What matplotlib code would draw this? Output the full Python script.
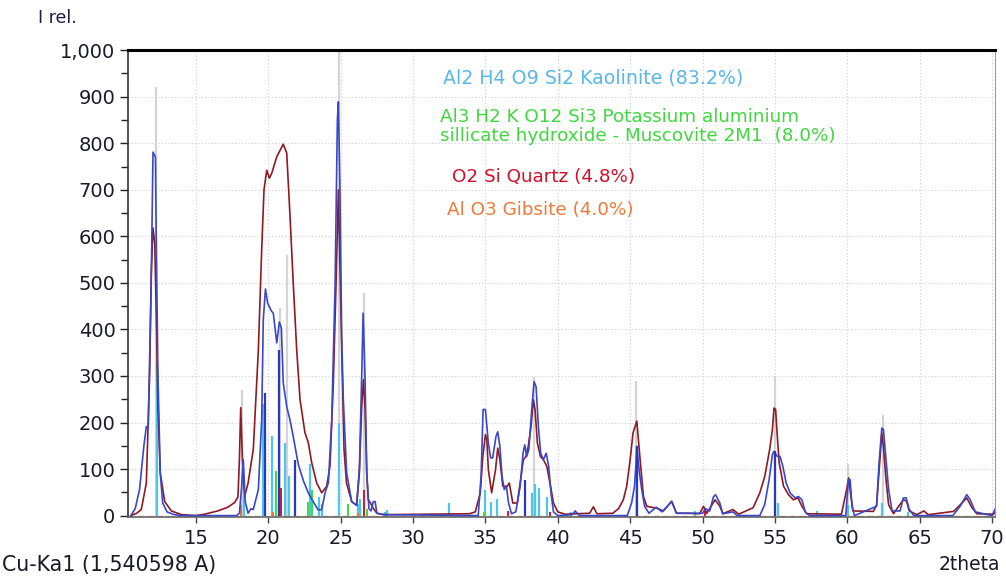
import matplotlib
matplotlib.use("Agg")
import matplotlib.pyplot as plt
from matplotlib.ticker import MultipleLocator, FuncFormatter

# measured pattern (dark red)
red_x = [10.5, 10.9, 11.22, 11.57, 11.80, 11.91, 12.03, 12.15, 12.26, 12.37, 12.53, 12.84, 13.3, 14.0, 15.0,
         15.6, 16.5, 17.2, 17.67, 17.9, 18.0, 18.09, 18.2, 18.35, 18.6, 18.96, 19.31, 19.54, 19.70, 19.89,
         20.07, 20.24, 20.58, 21.03, 21.27, 21.5, 21.72, 21.96, 22.19, 22.53, 22.76, 23.0, 23.34, 23.69,
         24.03, 24.26, 24.49, 24.68, 24.84, 25.07, 25.23, 25.4, 25.76, 26.1, 26.29, 26.45, 26.57, 26.68,
         26.8, 26.9, 27.27, 27.5, 28.0, 33.9, 34.3, 34.64, 34.82, 35.0, 35.1, 35.2, 35.43, 35.7, 35.85,
         36.0, 36.2, 36.5, 36.65, 36.89, 37.2, 37.4, 37.62, 37.8, 37.96, 38.15, 38.31, 38.43, 38.59, 38.8,
         39.0, 39.24, 39.5, 39.7, 40.0, 40.5, 42.2, 42.46, 42.7, 43.8, 44.2, 44.53, 44.76, 45.0, 45.2,
         45.46, 45.69, 45.92, 46.15, 46.84, 47.3, 47.87, 48.2, 49.0, 49.8, 50.07, 50.3, 50.87, 51.2, 51.4,
         52.1, 52.5, 53.5, 53.96, 54.3, 54.64, 54.83, 54.94, 55.05, 55.17, 55.3, 55.6, 55.94, 56.28, 56.6,
         56.87, 57.2, 59.6, 59.96, 60.1, 60.24, 60.4, 61.8, 62.03, 62.22, 62.39, 62.5, 62.68, 62.86, 63.2,
         63.55, 63.88, 64.1, 64.28, 64.8, 65.3, 65.6, 67.34, 67.8, 68.26, 68.6, 68.95, 70.1, 70.22]
red_y = [0, 5, 13, 70, 306, 521, 618, 586, 427, 234, 92, 30, 10, 2, 0,
         3, 10, 18, 28, 40, 120, 232, 130, 40, 70, 142, 356, 571, 700, 742,
         725, 736, 771, 798, 779, 642, 500, 356, 249, 178, 157, 113, 70, 49,
         63, 106, 285, 500, 700, 356, 142, 70, 30, 22, 92, 234, 292, 234,
         92, 35, 15, 5, 2, 4, 8, 48, 127, 174, 163, 99, 49, 99, 145,
         120, 63, 63, 70, 27, 27, 70, 120, 127, 149, 191, 249, 228, 156, 127,
         120, 106, 63, 27, 8, 3, 5, 19, 4, 5, 15, 34, 63, 120, 178,
         203, 120, 41, 20, 16, 10, 31, 5, 5, 4, 20, 5, 34, 20, 4,
         13, 3, 17, 49, 84, 142, 185, 231, 228, 170, 113, 63, 45, 34, 38,
         20, 4, 3, 56, 81, 45, 10, 9, 23, 106, 177, 149, 77, 23, 4,
         20, 34, 31, 10, 2, 10, 2, 9, 23, 38, 18, 4, 3, 6]

# second pattern (blue)
blue_x = [10.5, 10.8, 11.1, 11.4, 11.57, 11.7, 11.91, 12.03, 12.2, 12.26, 12.37, 12.53, 12.7, 13.0, 13.5,
          14.0, 17.8, 18.0, 18.15, 18.27, 18.4, 18.6, 18.8, 18.96, 19.31, 19.54, 19.65, 19.8, 19.95, 20.2,
          20.34, 20.58, 20.76, 20.9, 21.03, 21.27, 21.5, 21.72, 22.07, 22.42, 22.76, 23.1, 23.45, 23.69,
          23.92, 24.15, 24.38, 24.61, 24.77, 24.84, 24.95, 25.07, 25.18, 25.41, 25.76, 26.1, 26.29, 26.45,
          26.55, 26.68, 26.8, 26.95, 27.1, 27.25, 27.38, 27.5, 28.0, 34.5, 34.7, 34.84, 35.0, 35.2, 35.36,
          35.5, 35.73, 35.85, 36.0, 36.15, 36.3, 36.45, 36.6, 36.8, 37.1, 37.4, 37.6, 37.72, 37.85, 38.0,
          38.2, 38.36, 38.5, 38.66, 38.82, 39.0, 39.2, 39.37, 39.53, 39.7, 40.0, 41.0, 41.2, 41.5, 44.8,
          45.1, 45.3, 45.4, 45.46, 45.64, 45.8, 46.0, 46.3, 46.8, 47.2, 47.87, 48.2, 50.0, 50.2, 50.5,
          50.75, 50.9, 51.2, 51.4, 52.1, 52.4, 53.96, 54.3, 54.6, 54.83, 54.94, 55.17, 55.36, 55.55, 55.78,
          56.05, 56.4, 56.63, 56.87, 57.1, 57.4, 59.9, 60.08, 60.2, 60.33, 60.5, 62.03, 62.2, 62.39, 62.5,
          62.68, 62.86, 63.1, 63.65, 63.88, 64.07, 64.28, 64.6, 67.3, 67.8, 68.26, 68.5, 68.85, 70.0, 70.22]
blue_y = [0, 15, 56, 150, 191, 190, 506, 781, 770, 578, 306, 92, 27, 8, 2,
          0, 0, 5, 60, 120, 30, 5, 15, 13, 56, 206, 420, 487, 457, 440,
          435, 371, 416, 403, 285, 234, 205, 170, 110, 75, 49, 30, 12, 13,
          49, 71, 206, 492, 850, 889, 700, 380, 250, 92, 30, 22, 100, 300,
          435, 300, 92, 15, 10, 30, 30, 5, 2, 0, 84, 228, 228, 156, 124,
          124, 170, 180, 149, 84, 56, 63, 27, 4, 8, 63, 134, 152, 127, 142,
          228, 288, 277, 191, 134, 120, 134, 106, 49, 8, 0, 2, 10, 0, 0,
          27, 63, 110, 149, 92, 56, 20, 5, 18, 8, 30, 5, 5, 15, 10,
          40, 45, 27, 4, 8, 0, 0, 24, 77, 131, 138, 127, 127, 106, 70,
          49, 38, 41, 34, 8, 0, 0, 77, 77, 20, 0, 20, 113, 188, 185,
          120, 56, 10, 10, 38, 38, 14, 0, 0, 20, 45, 34, 8, 0, 14]

# reference sticks
gray_pos = [12.24, 18.2, 20.8, 21.27, 24.85, 26.6, 38.38, 45.4, 55.0, 60.06, 62.45]
gray_h = [920, 270, 446, 560, 1000, 478, 298, 290, 300, 110, 216]

kaol_pos = [12.3, 18.35, 19.65, 20.23, 20.5, 21.15, 21.4, 22.85, 23.5, 23.7, 24.85, 26.2, 26.33, 28.06,
            28.2, 32.45, 35.0, 35.4, 35.8, 38.2, 38.4, 38.7, 39.24, 40.9, 45.46, 49.5, 55.24, 57.9,
            60.06, 62.39, 64.2]
kaol_h = [330, 40, 240, 170, 30, 157, 85, 110, 41, 25, 200, 25, 35, 8,
          12, 28, 56, 30, 35, 49, 67, 60, 41, 8, 34, 10, 27, 10,
          23, 27, 8]

dblue_pos = [19.77, 20.76, 21.84, 37.74, 45.5, 55.0]
dblue_h = [263, 356, 120, 77, 149, 138]

musc_pos = [20.5, 22.76, 23.05, 25.5, 26.85, 34.9]
musc_h = [95, 30, 55, 25, 15, 8]

quartz_pos = [20.86, 26.64, 36.54, 39.47, 50.14]
quartz_h = [60, 56, 10, 8, 15]

gibb_pos = [18.1, 20.3, 26.2]
gibb_h = [23, 8, 5]

phase_labels = ["Al2 H4 O9 Si2 Kaolinite (83.2%)",
                "Al3 H2 K O12 Si3 Potassium aluminium",
                "sillicate hydroxide - Muscovite 2M1  (8.0%)",
                "O2 Si Quartz (4.8%)",
                "Al O3 Gibsite (4.0%)"]

plt.rcParams['font.family'] = ['DejaVu Sans']
fig = plt.figure(figsize=(10.06, 5.77), dpi=100)
ax = fig.add_axes([0.1272, 0.104, 0.862, 0.809])

ax.vlines(gray_pos, 0, gray_h, colors='#d4d4d4', lw=1.6, zorder=1)
ax.vlines(kaol_pos, 0, kaol_h, colors='#4ec6ec', lw=1.6, zorder=2)
ax.vlines(musc_pos, 0, musc_h, colors='#3cdc3c', lw=1.4, zorder=2)
ax.vlines(quartz_pos, 0, quartz_h, colors='#e0102f', lw=1.4, zorder=2)
ax.vlines(gibb_pos, 0, gibb_h, colors='#f07030', lw=1.4, zorder=2)
ax.axhline(0, color='#f0a050', lw=1.0, ls=(0, (4, 3)), zorder=2)

ax.plot(red_x, red_y, color='#8e1a22', lw=1.2, zorder=3)
ax.plot(blue_x, blue_y, color='#3a48c8', lw=1.2, zorder=4)
ax.vlines(dblue_pos, 0, dblue_h, colors='#2a38c0', lw=1.6, zorder=5)

ax.set_xlim(10.3, 70.22)
ax.set_ylim(-3, 1000)
ax.xaxis.set_major_locator(MultipleLocator(5))
ax.yaxis.set_major_locator(MultipleLocator(100))
ax.yaxis.set_minor_locator(MultipleLocator(50))
ax.yaxis.set_major_formatter(FuncFormatter(lambda v, p: '{:,.0f}'.format(v)))
ax.grid(True, which='major', color='#cfcfcf', lw=0.8, ls=(0, (1, 2)))
ax.set_axisbelow(True)

ax.tick_params(axis='y', which='major', length=6, width=1, pad=3, labelsize=14, colors='#222222',
               labelcolor='#1a1a2a')
ax.tick_params(axis='y', which='minor', length=5, width=1, colors='#222222')
ax.tick_params(axis='x', which='major', length=4, width=1, pad=5, labelsize=14, colors='#444444',
               labelcolor='#1a1a2a')

ax.spines['top'].set_linewidth(2.2)
ax.spines['top'].set_color('black')
ax.spines['left'].set_color('#333333')
ax.spines['left'].set_linewidth(1.2)
ax.spines['right'].set_color('#9a9a9a')
ax.spines['bottom'].set_color('#666666')
ax.spines['bottom'].set_linewidth(1.2)

# phase labels, placed in figure pixels
W, H = 1006, 577
lab_x = [443, 440, 440, 452, 447]
lab_y = [78, 117, 136, 177, 210]
lab_c = ['#5ab8e6', '#3ed83e', '#3ed83e', '#d0102a', '#f07838']
lab_s = [13.7, 13.2, 13.2, 13.2, 13.2]
for t, x, y, c, s in zip(phase_labels, lab_x, lab_y, lab_c, lab_s):
    fig.text(x / W, 1 - y / H, t, color=c, fontsize=s, ha='left', va='center')

fig.text(38 / W, 1 - 18 / H, 'I rel.', color='#241a48', fontsize=12.5, ha='left', va='center')
fig.text(2 / W, 1 - 565 / H, 'Cu-Ka1 (1,540598 A)', color='#1a1a2a', fontsize=14.8, ha='left', va='center')
fig.text(1000 / W, 1 - 565 / H, '2theta', color='#1a1a2a', fontsize=13.5, ha='right', va='center')

fig.savefig('out.png', dpi=100)
